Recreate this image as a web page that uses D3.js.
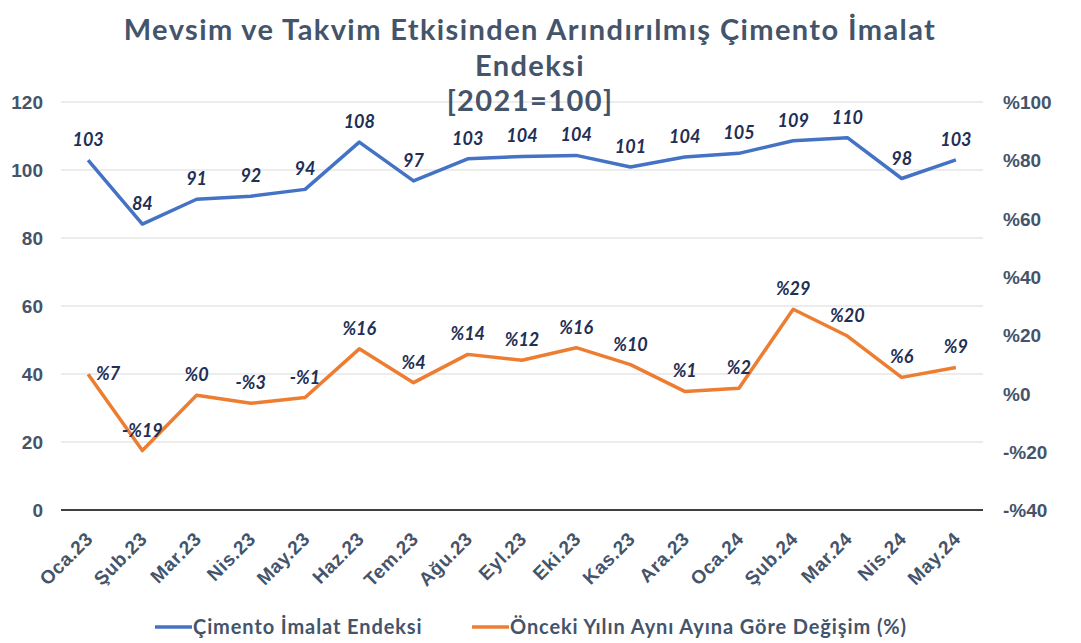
<!DOCTYPE html>
<html><head><meta charset="utf-8">
<script src="https://cdn.jsdelivr.net/npm/d3@7"></script>
<style>body{margin:0;background:#fff;} svg{display:block;font-family:Lato, "Open Sans", sans-serif;}</style>
</head><body><svg id="c" width="1081" height="643"></svg>
<script>
const categories = ["Oca.23","Şub.23","Mar.23","Nis.23","May.23","Haz.23","Tem.23","Ağu.23","Eyl.23","Eki.23","Kas.23","Ara.23","Oca.24","Şub.24","Mar.24","Nis.24","May.24"];
const indexValues = [102.9,84.1,91.4,92.3,94.3,108.2,96.8,103.3,104.0,104.3,100.9,103.8,104.9,108.6,109.5,97.5,103.0];
const indexLabels = ["103","84","91","92","94","108","97","103","104","104","101","104","105","109","110","98","103"];
const changeValues = [6.6,-19.6,-0.6,-3.4,-1.4,15.3,3.7,13.4,11.4,15.7,9.9,0.7,1.8,28.9,19.7,5.5,8.9];
const changeLabels = ["%7","-%19","%0","-%3","-%1","%16","%4","%14","%12","%16","%10","%1","%2","%29","%20","%6","%9"];
const leftTicks = [0,20,40,60,80,100,120];
const rightTicks = [-40,-20,0,20,40,60,80,100];
const rightTickLabels = ["-%40","-%20","%0","%20","%40","%60","%80","%100"];
const titleLines = ["Mevsim ve Takvim Etkisinden Arındırılmış Çimento İmalat","Endeksi","[2021=100]"];
const legendNames = ["Çimento İmalat Endeksi","Önceki Yılın Aynı Ayına Göre Değişim (%)"];

const svg = d3.select("#c");
const L = 61, R = 983, T = 102, B = 510;
const textCol = "#44546a", labelCol = "#1f2f55";
const blue = "#4472c4", orange = "#ed7d31";

const x = d3.scaleBand().domain(categories).range([L, R]).padding(0);
const yL = d3.scaleLinear().domain([0,120]).range([B,T]);
const yR = d3.scaleLinear().domain([-40,100]).range([B,T]);
const cx = d => x(d) + x.bandwidth()/2;

// gridlines
svg.append("g").selectAll("line").data(leftTicks.filter(t=>t>0)).join("line")
  .attr("x1",L).attr("x2",R).attr("y1",d=>yL(d)).attr("y2",d=>yL(d))
  .attr("stroke","#d9d9d9").attr("stroke-width",1);
svg.append("line").attr("x1",L).attr("x2",R).attr("y1",B).attr("y2",B).attr("stroke","#000").attr("stroke-width",1.3);

// left axis
const gl = svg.append("g").attr("transform",`translate(${L-18},0)`)
  .call(d3.axisLeft(yL).tickValues(leftTicks).tickSize(0).tickPadding(0));
gl.select(".domain").remove();
gl.selectAll("text").attr("fill",textCol).attr("font-size",19).attr("font-weight","bold").attr("dy","0.35em");

// right axis
const gr = svg.append("g").attr("transform",`translate(${R+20},0)`)
  .call(d3.axisRight(yR).tickValues(rightTicks).tickFormat((d,i)=>rightTickLabels[i]).tickSize(0).tickPadding(0));
gr.select(".domain").remove();
gr.selectAll("text").attr("fill",textCol).attr("font-size",19).attr("font-weight","bold").attr("dy","0.35em");

// x axis
const gx = svg.append("g").attr("transform",`translate(0,${B})`)
  .call(d3.axisBottom(x).tickSize(0).tickPadding(0));
gx.select(".domain").remove();
gx.selectAll("text").attr("fill",textCol).attr("font-size",19).attr("font-weight","bold")
  .attr("letter-spacing",0.6)
  .attr("text-anchor","end").attr("dy",0).attr("y",0)
  .attr("transform","translate(6,30) rotate(-45)");

// lines
const lineL = d3.line().x((d,i)=>cx(categories[i])).y(d=>yL(d));
const lineR = d3.line().x((d,i)=>cx(categories[i])).y(d=>yR(d));
svg.append("path").datum(indexValues).attr("d",lineL).attr("fill","none").attr("stroke",blue).attr("stroke-width",3.5).attr("stroke-linejoin","round");
svg.append("path").datum(changeValues).attr("d",lineR).attr("fill","none").attr("stroke",orange).attr("stroke-width",3.5).attr("stroke-linejoin","round");

// labels
svg.append("g").selectAll("text").data(indexValues).join("text")
  .attr("x",(d,i)=>cx(categories[i])).attr("y",d=>yL(d)-14)
  .attr("text-anchor","middle").attr("font-size",18).attr("font-weight","bold").attr("font-style","italic")
  .attr("fill",labelCol).text((d,i)=>indexLabels[i]);
svg.append("g").selectAll("text").data(changeValues).join("text")
  .attr("x",(d,i)=>cx(categories[i]) + (i===0?20:0)).attr("y",(d,i)=>i===0? yR(d)+6 : yR(d)-14)
  .attr("text-anchor","middle").attr("font-size",18).attr("font-weight","bold").attr("font-style","italic")
  .attr("fill",labelCol).text((d,i)=>changeLabels[i]);

// title
svg.append("g").selectAll("text").data(titleLines).join("text")
  .attr("x",530).attr("y",(d,i)=>40+i*35.5).attr("text-anchor","middle")
  .attr("font-size",29).attr("font-weight","bold").attr("letter-spacing",1.4).attr("fill",textCol).text(d=>d);

// legend
const legX = [155,472];
const lg = svg.append("g").selectAll("g").data(legendNames).join("g")
  .attr("transform",(d,i)=>`translate(${legX[i]},627)`);
lg.append("line").attr("x1",0).attr("x2",37).attr("y1",0).attr("y2",0)
  .attr("stroke",(d,i)=>i===0?blue:orange).attr("stroke-width",3.5);
lg.append("text").attr("x",38).attr("y",0).attr("dy","0.35em").attr("font-size",20).attr("font-weight","bold")
  .attr("letter-spacing",0.9).attr("fill",textCol).text(d=>d);
</script></body></html>
